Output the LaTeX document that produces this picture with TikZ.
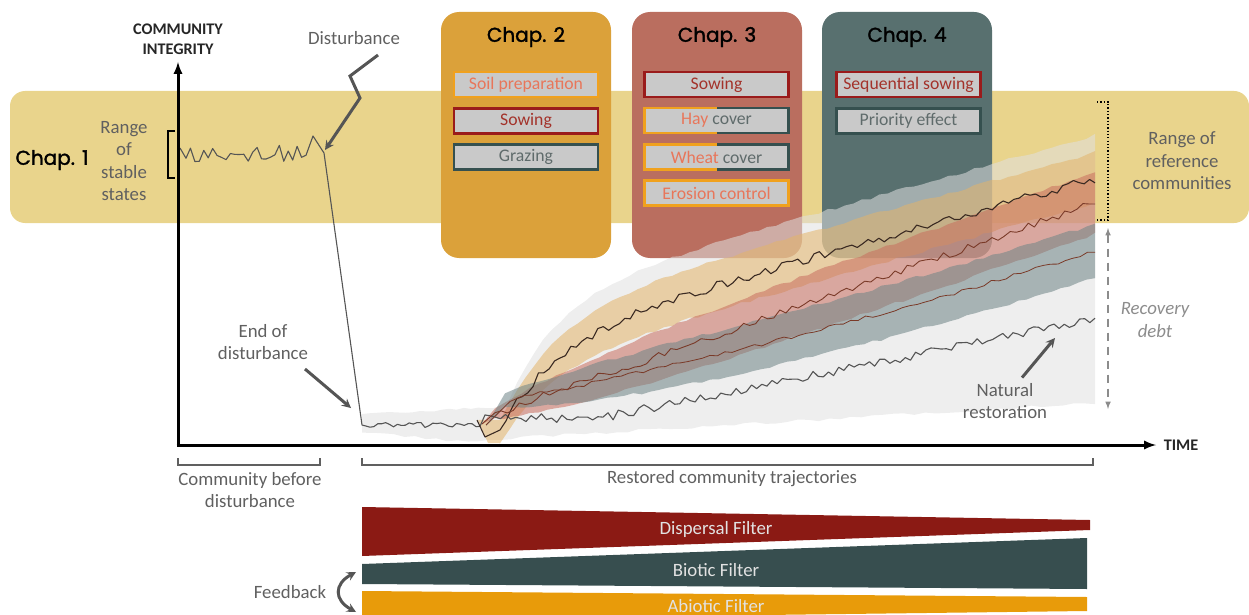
\documentclass[tikz,border=0pt]{standalone}
\usepackage{fontspec}
\setmainfont{Carlito}
\newfontfamily\chapfont{Poppins}[FakeBold=1.6]

\definecolor{bandyellow}{HTML}{E9D48C}
\definecolor{chaptwo}{HTML}{DBA13A}
\definecolor{chapthree}{HTML}{BA6E5F}
\definecolor{chapfour}{HTML}{58706F}
\definecolor{itemgrey}{HTML}{C9C9C9}
\definecolor{borderorange}{HTML}{F0A11E}
\definecolor{borderred}{HTML}{9A1B1B}
\definecolor{borderteal}{HTML}{35504F}
\definecolor{textsalmon}{HTML}{E8765A}
\definecolor{textred}{HTML}{A3322A}
\definecolor{textgrey}{HTML}{5F6B6B}
\definecolor{labelgrey}{HTML}{606060}
\definecolor{pointgrey}{HTML}{555555}
\definecolor{dispersal}{HTML}{8B1A14}
\definecolor{biotic}{HTML}{374E4F}
\definecolor{abiotic}{HTML}{E89B0A}
\definecolor{filterwhite}{HTML}{E2E2E2}
\definecolor{envgrey}{HTML}{E0E0E0}
\definecolor{bandtan}{HTML}{E3B46A}
\definecolor{bandred}{HTML}{C86E5E}
\definecolor{bandslate}{HTML}{6E8486}
\definecolor{linedark}{HTML}{3A2A22}
\definecolor{linebrown}{HTML}{7A3A28}

\begin{document}
\begin{tikzpicture}[x=1pt,y=-1pt,
  lbl/.style={text=labelgrey,font=\fontsize{18.8}{22.5}\selectfont,align=center},
  axislbl/.style={text=black!85,font=\bfseries\fontsize{16.2}{19.5}\selectfont,align=center},
  chapbox/.style={rounded corners=18pt,minimum width=170pt,minimum height=246pt,inner sep=0pt},
  chaptitle/.style={font=\chapfont\fontsize{20}{24}\selectfont},
  item/.style={draw,line width=2.6pt,fill=itemgrey,minimum width=144pt,minimum height=25pt,
    inner sep=0pt,outer sep=0pt,font=\fontsize{17.7}{20}\selectfont},
  pointer/.style={draw=pointgrey,line width=3pt,-stealth},
  traj/.style={draw=#1,line width=1.1pt,line join=round},
  band/.style={fill=#1,opacity=.55},
  filtertext/.style={text=filterwhite,font=\fontsize{18.8}{20}\selectfont},
  declare function={
    toptraj(\x)=430-0.28*(\x-500)-85*(1-exp(-(\x-500)/55));
    redtraj(\x)=400-0.35*(\x-533);
    slatetraj(\x)=395-0.2*(\x-533)-((\x-533)/100)^2;
    nattraj(\x)=418-0.2*max(\x-600,0);
    envup(\x)=toptraj(\x)-8-35*(1-exp(-(\x-500)/40));
    envlow(\x)=min(440-0.06*(\x-480),432+0.1*(\x-362));
    spread(\x,\a,\b)=\a*(1-exp(-(\x-490)/\b));
  }]
\pgfmathsetseed{11}
\useasboundingbox (0,0) rectangle (1249,615);

% chapter 1 band
\fill[bandyellow,rounded corners=15pt] (10,91) rectangle (1249,223);

% chapter boxes
\node[chapbox,fill=chaptwo] (chap2) at (526,135) {};
\node[chapbox,fill=chapthree] (chap3) at (717,135) {};
\node[chapbox,fill=chapfour] (chap4) at (907,135) {};
\node[chaptitle] (t2) at (526,37) {Chap. 2};
\node[chaptitle] (t3) at (717,37) {Chap. 3};
\node[chaptitle] (t4) at (907,37) {Chap. 4};

\node[item,draw=borderorange,text=textsalmon] (soil) at (526,84.5) {Soil preparation};
\node[item,draw=borderred,text=textred] (sow2) at (526,121) {Sowing};
\node[item,draw=borderteal,text=textgrey] (graze) at (526,157) {Grazing};

\node[item,draw=borderred,text=textred] (sow3) at (716.5,84.5) {Sowing};
\node[item,draw=borderteal,text=textgrey] (hay) at (716.5,120.5) {\textcolor{textsalmon}{Hay} cover};
\draw[borderorange,line width=2.6pt] (hay.north) -- (hay.north west) -- (hay.south west) -- (hay.south);
\node[item,draw=borderteal,text=textgrey] (wheat) at (716.5,157) {\textcolor{textsalmon}{Wheat} cover};
\draw[borderorange,line width=2.6pt] (wheat.north) -- (wheat.north west) -- (wheat.south west) -- (wheat.south);
\node[item,draw=borderorange,text=textsalmon] (erosion) at (716.5,193) {Erosion control};

\node[item,draw=borderred,text=textred] (seqsow) at (908.5,84.5) {Sequential sowing};
\node[item,draw=borderteal,text=textgrey] (priority) at (908.5,121) {Priority effect};

% envelopes of the restored trajectories
\fill[band=envgrey] plot[domain=362:500,samples=20] (\x,{414-0.05*(\x-362)+1.2*rand})
  -- plot[domain=500:1095,samples=70] (\x,{envup(\x)+1.5*rand})
  -- plot[domain=1095:362,samples=70] (\x,{envlow(\x)+1.5*rand}) -- cycle;
\fill[band=bandtan] (478,420) -- plot[domain=500:1095,samples=70] (\x,{toptraj(\x)-6-spread(\x,20,60)+1.5*rand})
  -- plot[domain=1095:500,samples=70] (\x,{toptraj(\x)+10+spread(\x,15,60)+1.5*rand}) -- (488,443) -- cycle;
\fill[band=bandred] (482,424) -- plot[domain=495:1095,samples=70] (\x,{redtraj(\x)-5-spread(\x,26,120)+1.5*rand})
  -- plot[domain=1095:495,samples=70] (\x,{redtraj(\x)+5+spread(\x,26,120)+1.5*rand}) -- cycle;
\fill[band=bandslate] (486,426) -- plot[domain=505:1095,samples=70] (\x,{slatetraj(\x)-5-spread(\x,22,120)+1.5*rand})
  -- plot[domain=1095:505,samples=70] (\x,{slatetraj(\x)+5+spread(\x,22,120)+1.5*rand}) -- cycle;

% trajectories
\draw[traj=pointgrey] (180,148) -- plot[domain=186:306,samples=28] (\x,{153+9*rand}) -- (313,136) -- (324,153)
  -- (362,425) -- plot[domain=366:480,samples=30] (\x,{425+2.5*rand})
  -- plot[domain=485:1095,samples=120] (\x,{nattraj(\x)+4.5*rand});
\draw[traj=linedark] (477,420) -- (485,437) -- (500,430) -- plot[domain=506:1095,samples=110] (\x,{toptraj(\x)+4.5*rand});
\draw[traj=linebrown,line width=.9pt] (482,424) -- plot[domain=495:1095,samples=100] (\x,{redtraj(\x)+4*rand});
\draw[traj=linebrown,line width=.8pt] (486,425) -- plot[domain=510:1095,samples=80] (\x,{slatetraj(\x)+2*rand});

% axes
\coordinate (origin) at (178,445);
\coordinate (ytip) at (178,62);
\coordinate (xtip) at (1156,445);
\draw[line width=3pt,-latex] ([yshift=1.5pt]origin) -- (ytip);
\draw[line width=3pt,-latex] ([xshift=-1.5pt]origin) -- (xtip);
\node[axislbl] (yname) at (178,39) {COMMUNITY\\INTEGRITY};
\node[axislbl] (xname) at (1181,445) {TIME};

% chapter 1
\node[font=\chapfont\fontsize{20}{24}\selectfont] (t1) at (52,160) {Chap. 1};
\node[lbl] (stable) at (124,161) {Range\\of\\stable\\states};
\draw[line width=1.2pt] (175,131) -| (168,178) -- (175,178);

% disturbance
\node[lbl] (distlabel) at (354,38) {Disturbance};
\coordinate (boltstart) at (378,55);
\coordinate (disthit) at (325,150);
\draw[pointer,line join=miter] (boltstart) -- (350,76) -- (360,98) -- (disthit);
\node[lbl] (enddist) at (263,342) {End of\\disturbance};
\coordinate (endhit) at (351,408);
\draw[pointer] (305,369) -- (endhit);

% reference range and recovery debt
\draw[line width=1.3pt,dotted] (1097,102) -| (1108,220) -- (1097,220);
\node[lbl] (refrange) at (1182,161) {Range of\\reference\\communities};
\coordinate (debttop) at (1108,228);
\coordinate (debtbot) at (1108,409);
\draw[draw=black!45,line width=1.5pt,dashed,dash pattern=on 8pt off 6pt,latex-latex] (debttop) -- (debtbot);
\node[lbl,text=black!45,font=\itshape\fontsize{18.8}{22.5}\selectfont] (debt) at (1155,320) {Recovery\\debt};

\node[lbl] (natlabel) at (1005,401) {Natural\\restoration};
\coordinate (nattip) at (1055,338);
\draw[pointer] ([xshift=17pt,yshift=2pt]natlabel.north) -- (nattip);

% periods
\draw[labelgrey,line width=1.2pt] (178,458) |- (320,465) -- (320,458);
\node[lbl] (before) at (250,490) {Community before\\disturbance};
\draw[labelgrey,line width=1.2pt] (362,458) |- (1093,465) -- (1093,458);
\node[lbl] (restored) at (732,479) {Restored community trajectories};

% filters
\fill[dispersal] (362,507) -- (1090,520) -- (1090,530) -- (362,556) -- cycle;
\node[filtertext] (dispf) at (716,529) {Dispersal Filter};
\fill[biotic] (362,564) -- (1087,538) -- (1087,589) -- (362,584) -- cycle;
\node[filtertext] (biof) at (716,570) {Biotic Filter};
\fill[abiotic] (362,591) -- (1087,597) -- (1087,611) -- (362,620) -- cycle;
\node[filtertext] (abiof) at (716,606) {Abiotic Filter};

\node[lbl] (feedback) at (290,592) {Feedback};
\coordinate (fbtop) at (356,572);
\coordinate (fbbot) at (356,612);
\draw[pointgrey,line width=3pt,stealth-stealth] (fbtop) .. controls (334,584) and (334,600) .. (fbbot);
\end{tikzpicture}
\end{document}
